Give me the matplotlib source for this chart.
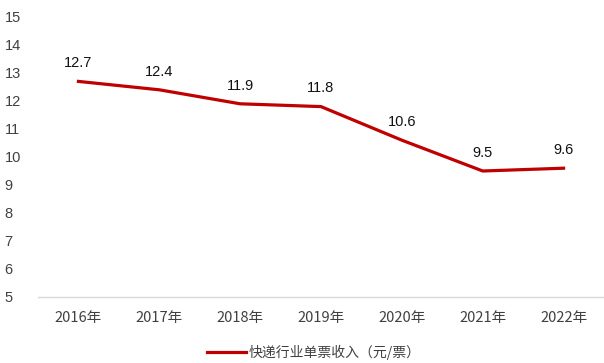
import matplotlib
matplotlib.use('Agg')
from matplotlib import pyplot as plt

plt.rcParams['font.family'] = ['Noto Sans CJK SC', 'DejaVu Sans']

years = ['2016年', '2017年', '2018年', '2019年', '2020年', '2021年', '2022年']
income = [12.7, 12.4, 11.9, 11.8, 10.6, 9.5, 9.6]
series_name = '快递行业单票收入（元/票）'

fig = plt.figure(figsize=(6.04, 3.63), dpi=100)
ax = fig.add_axes([38 / 604, 1 - 297 / 363, 566 / 604, 280 / 363])

x = range(len(years))
line, = ax.plot(x, income, color='#C00000', linewidth=2.3, label=series_name)

for xi, v in zip(x, income):
    ax.annotate(f'{v}', (xi, v), xytext=(0, 8), textcoords='offset points',
                ha='center', va='bottom', fontsize=10.5, color='#111111',
                family='Liberation Sans')

ax.set_xlim(-0.5, len(years) - 0.5)
ax.set_ylim(5, 15)
ax.set_yticks(range(5, 16))
ax.set_xticks(list(x))
ax.set_xticklabels(years)

for s in ['top', 'right', 'left']:
    ax.spines[s].set_visible(False)
ax.spines['bottom'].set_color('#D9D9D9')
ax.spines['bottom'].set_linewidth(1.0)
ax.tick_params(axis='both', length=0, labelsize=10.5, colors='#404040')
ax.tick_params(axis='x', pad=10)
ax.tick_params(axis='y', pad=24)
for lbl in ax.get_yticklabels():
    lbl.set_horizontalalignment('left')
    lbl.set_family('Liberation Sans')

fig.legend(handles=[line], loc='center', bbox_to_anchor=(0.52, 1 - 352 / 363),
           frameon=False, fontsize=10, handlelength=2.8, handletextpad=0.2,
           labelcolor='#404040')

fig.savefig('out.png', dpi=100)
